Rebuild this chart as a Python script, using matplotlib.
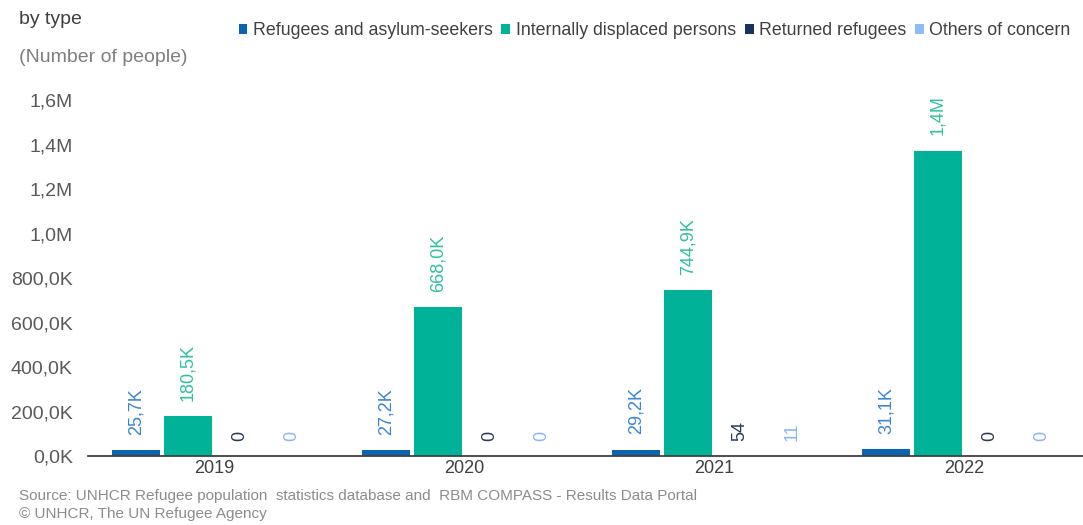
import numpy as np
import matplotlib.pyplot as plt
from matplotlib.ticker import FuncFormatter

plt.rcParams['font.family'] = ['Liberation Sans', 'DejaVu Sans']

years = ['2019', '2020', '2021', '2022']
series_names = ['Refugees and asylum-seekers', 'Internally displaced persons',
                'Returned refugees', 'Others of concern']
refugees = [25700, 27200, 29200, 31100]
idps = [180500, 668000, 744900, 1372000]
returned = [0, 0, 54, 0]
others = [0, 0, 11, 0]

bar_colors = ['#0a64b0', '#00b398', '#17325c', '#8ebcf8']
label_colors = ['#3a86d6', '#2fc0a0', '#2a3a55', '#8ab6fb']


def fmt_value(v):
    # short number with decimal comma: 25,7K / 1,4M / 54
    if v >= 1e6:
        return f'{v / 1e6:.1f}M'.replace('.', ',')
    if v >= 1e3:
        return f'{v / 1e3:.1f}K'.replace('.', ',')
    return str(int(v))


def fmt_tick(v, pos):
    if v >= 1e6:
        return f'{v / 1e6:.1f}M'.replace('.', ',')
    return f'{v / 1e3:.1f}K'.replace('.', ',')


fig = plt.figure(figsize=(10.83, 5.25), dpi=100)
ax = fig.add_axes([0.0813, 0.1314, 0.9187, 0.6781])

x = np.arange(len(years))
slot = 0.208
width = 0.192
all_series = [refugees, idps, returned, others]

for i, (vals, name) in enumerate(zip(all_series, series_names)):
    pos = x + (i - 1.5) * slot
    ax.bar(pos, vals, width, color=bar_colors[i], label=name)
    for px, v in zip(pos, vals):
        ax.annotate(fmt_value(v), (px, v), xytext=(0, 11), textcoords='offset points',
                    rotation=90, ha='center', va='bottom', fontsize=13,
                    color=label_colors[i])

ax.set_ylim(0, 1.6e6)
ax.set_xlim(-0.504, 3.476)
ax.set_yticks(np.arange(0, 1.6e6 + 1, 2e5))
ax.yaxis.set_major_formatter(FuncFormatter(fmt_tick))
ax.set_xticks(x)
ax.set_xticklabels(years)
ax.tick_params(axis='y', length=0, labelsize=14, labelcolor='#595959', pad=11)
ax.tick_params(axis='x', length=0, labelsize=13, labelcolor='#404040', pad=3)

for side in ['top', 'right', 'left']:
    ax.spines[side].set_visible(False)
ax.spines['bottom'].set_color('#404040')
ax.spines['bottom'].set_linewidth(1.3)

# Legend across the top
fig.legend(loc='center right', bbox_to_anchor=(1.0, 0.941), ncol=4, frameon=False,
           fontsize=12.8, handlelength=0.5, handleheight=0.5, handletextpad=0.3,
           columnspacing=0.5, borderpad=0.2, labelcolor='#404040')

fig.text(0.018, 0.963, 'by type', fontsize=14, color='#404040', va='center')
fig.text(0.018, 0.891, '(Number of people)', fontsize=14, color='#7f7f7f', va='center')
fig.text(0.018, 0.055, 'Source: UNHCR Refugee population  statistics database and  RBM COMPASS - Results Data Portal',
         fontsize=11, color='#8c8c8c', va='center')
fig.text(0.018, 0.021, '\u00a9 UNHCR, The UN Refugee Agency', fontsize=11, color='#8c8c8c', va='center')

plt.savefig('out.png', dpi=100)
plt.close()
